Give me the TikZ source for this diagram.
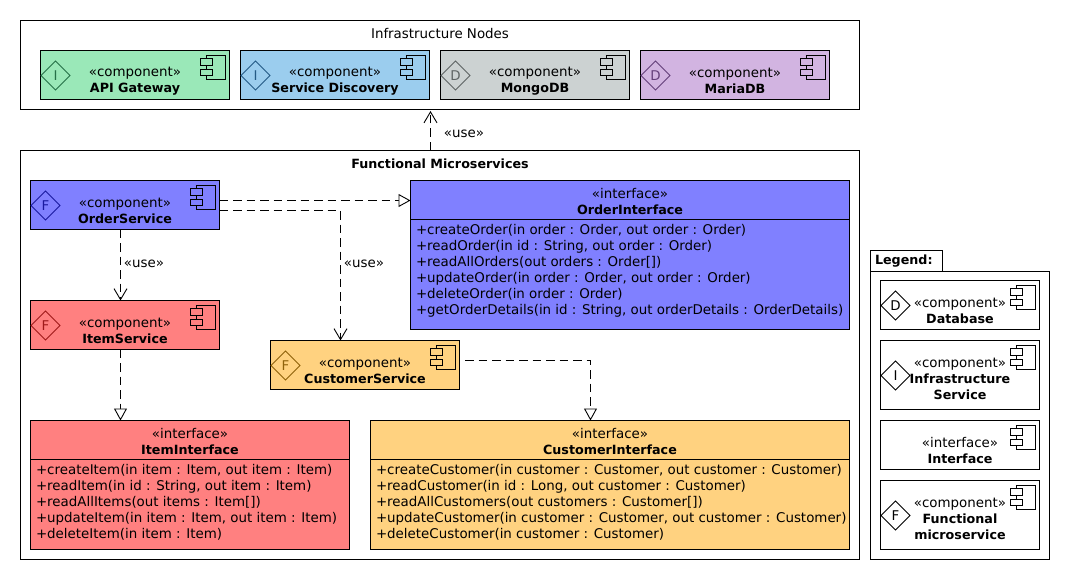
\documentclass[tikz,border=0pt]{standalone}
\usepackage{fontspec}
\setmainfont{DejaVu Sans}
\usetikzlibrary{arrows.meta,shapes.geometric}
\definecolor{cgreen}{HTML}{9AE8B8}
\definecolor{cblue}{HTML}{9BCDEE}
\definecolor{cgray}{HTML}{CCD2D2}
\definecolor{cpurple}{HTML}{D2B4E1}
\definecolor{corder}{HTML}{8080FF}
\definecolor{citem}{HTML}{FF8080}
\definecolor{ccust}{HTML}{FFD280}
\definecolor{dgreen}{HTML}{267048}
\definecolor{dblue}{HTML}{245A85}
\definecolor{dgray}{HTML}{5E6464}
\definecolor{dpurple}{HTML}{643F7A}
\definecolor{dorder}{HTML}{1A1AA0}
\definecolor{ditem}{HTML}{A01A1A}
\definecolor{dcust}{HTML}{8F620A}
\newcommand{\txt}{\fontsize{13.4}{16}\selectfont}
\newcommand{\bld}[1]{{\fontsize{12.7}{16}\selectfont\bfseries #1}}
\tikzset{
 every node/.style={inner sep=0pt,outer sep=0pt,font=\txt},
 frame/.style={draw=black,line width=1pt,fill=white},
 compbox/.style={draw=black,line width=1pt,minimum height=49pt,minimum width=189pt},
 legbox/.style={compbox,minimum width=159pt,fill=white},
 boxtext/.style={align=center},
 headbox/.style={draw=black,line width=1pt,minimum height=39pt},
 bodybox/.style={draw=black,line width=1pt,minimum height=#1},
 bodytext/.style={align=left,anchor=north west},
 mark diamond/.style={diamond,aspect=1,draw=#1,text=#1,line width=.8pt,minimum size=29pt},
 iconpart/.style={draw=black,line width=1pt},
 dep/.style={draw=black,line width=.9pt,dash pattern=on 8.5pt off 5pt},
 usearrow/.style={dep,-{Straight Barb[length=11pt,width=13pt,line width=.9pt]}},
 realize/.style={dep,-{Triangle[open,length=12pt,width=13pt,line width=.9pt,fill=white]}},
 lbl/.style={font=\txt},
}
\newcommand{\icon}[2]{% node, fill
 \draw[iconpart,fill=#2] ([xshift=-23pt,yshift=-5pt]#1.north east) rectangle ([xshift=-4pt,yshift=-29pt]#1.north east);
 \draw[iconpart,fill=#2] ([xshift=-29pt,yshift=-8pt]#1.north east) rectangle ([xshift=-17pt,yshift=-15pt]#1.north east);
 \draw[iconpart,fill=#2] ([xshift=-29pt,yshift=-19pt]#1.north east) rectangle ([xshift=-17pt,yshift=-25pt]#1.north east);
}
\newcommand{\comp}[9]{% name, cx, cy, fill, markcolor, letter, style, text, text drop
 \node[compbox,#7,fill=#4] (#1) at (#2,#3) {};
 \icon{#1}{#4}
 \node[boxtext] (#1-text) at ([yshift=-#9]#1.center) {#8};
 \node[mark diamond=#5,anchor=center] (#1-mark) at ([xshift=15pt,yshift=-.5pt]#1.west) {#6};
}
\begin{document}
\begin{tikzpicture}[x=1pt,y=-1pt]
\useasboundingbox (0,0) rectangle (1070,580);
% Infrastructure
\node[frame,minimum width=839pt,minimum height=89pt] (infra) at (440,65) {};
\node (infra-title) at (440,34) {Infrastructure Nodes};
\comp{gw}{135}{75}{cgreen}{dgreen}{I}{}{«component»\\\bld{API Gateway}}{6pt}
\comp{sd}{335}{75}{cblue}{dblue}{I}{}{«component»\\\bld{Service Discovery}}{6pt}
\comp{mongo}{535}{75}{cgray}{dgray}{D}{}{«component»\\\bld{MongoDB}}{6pt}
\comp{maria}{735}{75}{cpurple}{dpurple}{D}{}{«component»\\\bld{MariaDB}}{6pt}
% Functional
\node[frame,minimum width=839pt,minimum height=409pt] (func) at (440,355) {};
\node (func-title) at (440,164) {\bld{Functional Microservices}};
\comp{order}{125}{205}{corder}{dorder}{F}{}{«component»\\\bld{OrderService}}{6pt}
\comp{item}{125}{325}{citem}{ditem}{F}{}{«component»\\\bld{ItemService}}{6pt}
\comp{cust}{365}{365}{ccust}{dcust}{F}{}{«component»\\\bld{CustomerService}}{6pt}
% Order interface
\node[headbox,fill=corder,minimum width=439pt] (oi) at (630,200) {};
\node[boxtext] (oi-text) at (630,201) {«interface»\\\bld{OrderInterface}};
\node[bodybox=110pt,fill=corder,minimum width=439pt] (oib) at (630,274.5) {};
\node[bodytext] (oit) at (416,224) {+createOrder(in order : Order, out order : Order)\\+readOrder(in id : String, out order : Order)\\+readAllOrders(out orders : Order[])\\+updateOrder(in order : Order, out order : Order)\\+deleteOrder(in order : Order)\\+getOrderDetails(in id : String, out orderDetails : OrderDetails)};
% Item interface
\node[headbox,fill=citem,minimum width=319pt] (ii) at (190,440) {};
\node[boxtext] (ii-text) at (190,441) {«interface»\\\bld{ItemInterface}};
\node[bodybox=90pt,fill=citem,minimum width=319pt] (iib) at (190,504.5) {};
\node[bodytext] (iit) at (36,464) {+createItem(in item : Item, out item : Item)\\+readItem(in id : String, out item : Item)\\+readAllItems(out items : Item[])\\+updateItem(in item : Item, out item : Item)\\+deleteItem(in item : Item)};
% Customer interface
\node[headbox,fill=ccust,minimum width=479pt] (ci) at (610,440) {};
\node[boxtext] (ci-text) at (610,441) {«interface»\\\bld{CustomerInterface}};
\node[bodybox=90pt,fill=ccust,minimum width=479pt] (cib) at (610,504.5) {};
\node[bodytext] (cit) at (376,464) {+createCustomer(in customer : Customer, out customer : Customer)\\+readCustomer(in id : Long, out customer : Customer)\\+readAllCustomers(out customers : Customer[])\\+updateCustomer(in customer : Customer, out customer : Customer)\\+deleteCustomer(in customer : Customer)};
% Legend
\node[frame,minimum width=179pt,minimum height=288pt] (leg) at (960,415.5) {};
\draw[frame] (leg.north west) -- ++(0,-21) -- ++(72,0) -- ++(0,21) -- cycle;
\node[anchor=west] (leg-title) at (875,261) {\bld{Legend:}};
\comp{ld}{960}{305}{white}{black}{D}{legbox}{«component»\\\bld{Database}}{6pt}
\comp{li}{960}{375}{white}{black}{I}{legbox,minimum height=69pt}{«component»\\\bld{Infrastructure}\\\bld{Service}}{4pt}
\node[legbox] (lif) at (960,445) {};
\icon{lif}{white}
\node[boxtext] (lif-text) at (960,450) {«interface»\\\bld{Interface}};
\comp{lf}{960}{515}{white}{black}{F}{legbox,minimum height=69pt}{«component»\\\bld{Functional}\\\bld{microservice}}{4pt}
% Connectors
\coordinate (upx) at (430.5,0);
\draw[usearrow] (func.north -| upx) -- ([yshift=-1.5pt]infra.south -| upx);
\node[lbl] (l1) at (464,134) {«use»};
\draw[realize] ([yshift=4.5pt]order.east) -- ([yshift=4.5pt]order.east -| oi.west);
\coordinate (bend) at (340.5,210.5);
\draw[usearrow] (order.east |- bend) -- (bend) -- (bend |- cust.north);
\node[lbl] (l2) at (364,264) {«use»};
\draw[usearrow] ([xshift=-4.5pt]order.south) -- ([xshift=-4.5pt]item.north);
\node[lbl] (l3) at (144,264) {«use»};
\draw[realize] ([xshift=-4.5pt]item.south) -- ([xshift=-4.5pt]item.south |- ii.north);
\coordinate (cs) at (465,360.5);
\coordinate (cb) at (590.5,360.5);
\draw[realize] (cs) -- (cb) -- (cb |- ci.north);
\end{tikzpicture}
\end{document}
